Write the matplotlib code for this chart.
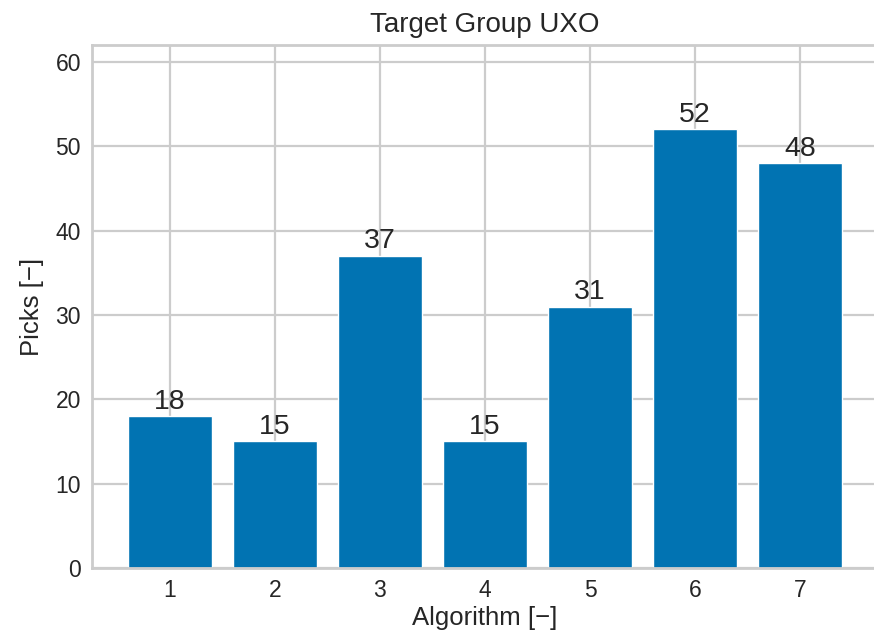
import matplotlib
matplotlib.use('Agg')
import matplotlib.pyplot as plt
import seaborn as sns

# data
algorithms = [1, 2, 3, 4, 5, 6, 7]
picks = [18, 15, 37, 15, 31, 52, 48]

sns.set_theme(style='whitegrid')
plt.rcParams['font.family'] = ['Liberation Sans', 'DejaVu Sans']
plt.rcParams['text.color'] = '.15'
plt.rcParams['axes.labelcolor'] = '.15'
plt.rcParams['xtick.color'] = '.15'
plt.rcParams['ytick.color'] = '.15'

fig = plt.figure(figsize=(8.74, 6.43), dpi=100)
ax = fig.add_axes([92/874, 75/643, 786/874, 523/643])

bars = ax.bar(algorithms, picks, width=0.8, color='#0173B2', zorder=2)
ax.bar_label(bars, fontsize=20.5, padding=1)

ax.set_ylim(0, 62)
ax.set_yticks([0, 10, 20, 30, 40, 50, 60])
ax.set_xticks(algorithms)
ax.grid(True, color='.8', linewidth=1.6)
ax.set_axisbelow(True)
for s in ax.spines.values():
    s.set_color('.8')
    s.set_linewidth(2)
ax.tick_params(labelsize=16.5, length=0, pad=8)

ax.set_title('Target Group UXO', fontsize=20, pad=9)
ax.set_xlabel('Algorithm [\u2212]', fontsize=18.5, labelpad=3)
ax.set_ylabel('Picks [\u2212]', fontsize=18.5, labelpad=8)

fig.savefig('out.png', dpi=100)
